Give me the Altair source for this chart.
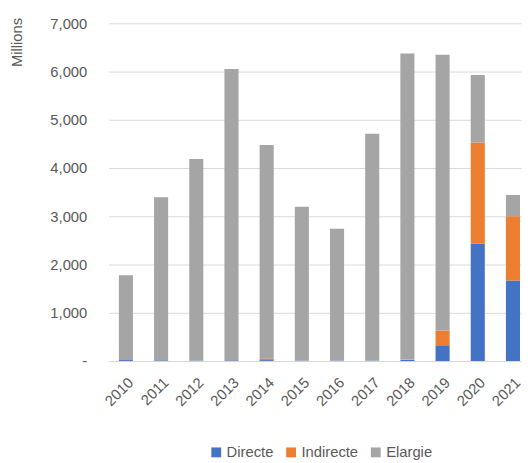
import altair as alt
import pandas as pd

years = ["2010", "2011", "2012", "2013", "2014", "2015", "2016", "2017", "2018", "2019", "2020", "2021"]
directe = [20, 15, 10, 15, 20, 10, 10, 10, 25, 327, 2430, 1667]
indirecte = [0, 0, 0, 0, 30, 0, 0, 0, 5, 306, 2100, 1333]
elargie = [1760, 3380, 4180, 6040, 4430, 3190, 2730, 4700, 6345, 5717, 1400, 442]
series = ["Directe", "Indirecte", "Elargie"]
colors = ["#4472C4", "#ED7D31", "#A5A5A5"]
y_ticks = [0, 1000, 2000, 3000, 4000, 5000, 6000, 7000]

rows = []
for k, (name, vals) in enumerate(zip(series, [directe, indirecte, elargie])):
    for yr, v in zip(years, vals):
        rows.append({"year": yr, "series": name, "value": v, "k": k})
df = pd.DataFrame(rows)

FONT = "Liberation Sans"
TXT = "#595959"
FS = 15

chart = alt.Chart(df).mark_bar().encode(
    x=alt.X("year:N", sort=years, title=None,
            scale=alt.Scale(paddingInner=0.6, paddingOuter=0.163, align=0.91),
            axis=alt.Axis(labelAngle=-45, labelAlign="right", labelBaseline="top",
                          labelPadding=14, ticks=False, tickSize=0,
                          domainColor="#D9D9D9", labelColor=TXT, labelFontSize=FS,
                          labelFont=FONT)),
    y=alt.Y("value:Q", stack="zero",
            scale=alt.Scale(domain=[0, 7000], nice=False),
            axis=alt.Axis(values=y_ticks, title="Millions",
                          titleX=-93, titleY=19, titleAlign="center", titleBaseline="middle",
                          titleFont=FONT, titleFontSize=FS, titleFontWeight="normal",
                          titleColor=TXT,
                          labelExpr="datum.value == 0 ? '-\u00a0\u00a0\u00a0' : format(datum.value, ',')",
                          labelFont=FONT, labelFontSize=FS, labelColor=TXT,
                          labelPadding=22, ticks=False, tickSize=0, domain=False,
                          gridColor="#D9D9D9", gridWidth=1)),
    color=alt.Color("series:N", scale=alt.Scale(domain=series, range=colors),
                    legend=alt.Legend(title=None, orient="none", legendX=102, legendY=428,
                                      direction="horizontal", symbolType="square",
                                      symbolSize=100, symbolStrokeWidth=0,
                                      labelFont=FONT, labelFontSize=FS, labelColor=TXT,
                                      labelOffset=3, columnPadding=10, padding=0)),
    order=alt.Order("k:Q", sort="ascending"),
).properties(
    width=419, height=343,
    autosize=alt.AutoSizeParams(type="none"),
    padding={"left": 102, "top": 12, "right": 2, "bottom": 100},
).configure_view(stroke=None)

chart.save("out.html", embed_options={"renderer": "svg", "actions": False})
